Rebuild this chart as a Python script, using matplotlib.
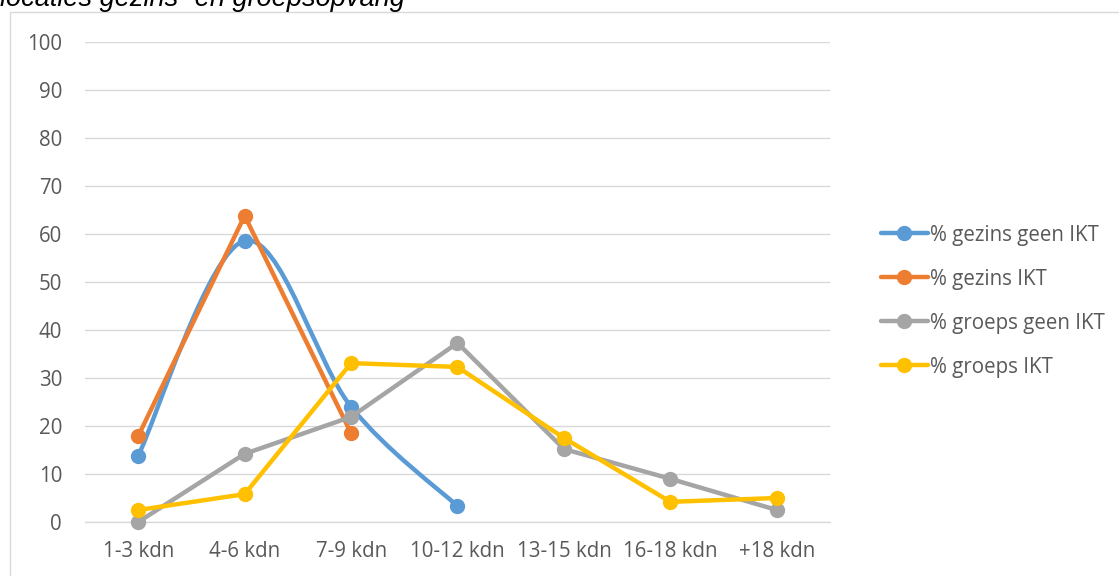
import matplotlib.pyplot as plt
from matplotlib.path import Path
from matplotlib.patches import PathPatch, Rectangle
from matplotlib.lines import Line2D

categories = ["1-3 kdn", "4-6 kdn", "7-9 kdn", "10-12 kdn", "13-15 kdn", "16-18 kdn", "+18 kdn"]

gezins_geen_ikt = [13.8, 58.6, 24.0, 3.3]
gezins_ikt = [17.9, 63.8, 18.5]
groeps_geen_ikt = [0.0, 14.2, 21.9, 37.3, 15.2, 9.0, 2.5]
groeps_ikt = [2.5, 5.8, 33.1, 32.3, 17.5, 4.2, 5.0]

labels = ["% gezins geen IKT", "% gezins IKT", "% groeps geen IKT", "% groeps IKT"]
colors = ["#5b9bd5", "#ed7d31", "#a5a5a5", "#ffc000"]

FONT = "Open Sans"
TXT = "#595959"
FS = 14.8


def smooth_path(xs, ys):
    # excel-style smoothed line as cubic bezier segments
    pts = list(zip(xs, ys))
    n = len(pts)
    verts = [pts[0]]
    codes = [Path.MOVETO]
    for i in range(n - 1):
        p0 = pts[i - 1] if i > 0 else pts[i]
        p1 = pts[i]
        p2 = pts[i + 1]
        p3 = pts[i + 2] if i + 2 < n else pts[i + 1]
        c1 = (p1[0] + (p2[0] - p0[0]) / 6, p1[1] + (p2[1] - p0[1]) / 6)
        c2 = (p2[0] - (p3[0] - p1[0]) / 6, p2[1] - (p3[1] - p1[1]) / 6)
        verts += [c1, c2, p2]
        codes += [Path.CURVE4] * 3
    return Path(verts, codes)


fig = plt.figure(figsize=(11.19, 5.76), dpi=100)

# chart border (partly outside the image)
fig.patches.append(Rectangle((10 / 1119, -0.1), 1.2, (576 - 12) / 576 + 0.1,
                             transform=fig.transFigure, fill=False,
                             edgecolor="#d9d9d9", linewidth=1.0))

fig.text(0.0, 1 - 6 / 576, "locaties gezins- en groepsopvang", fontsize=19.5,
         style="italic", family="Liberation Sans", color="#000000", va="baseline")

ax = fig.add_axes([85 / 1119, 54 / 576, 745 / 1119, 480 / 576])
ax.set_xlim(-0.5, 6.5)
ax.set_ylim(0, 100)
ax.set_yticks(range(0, 101, 10))
ax.set_xticks(range(len(categories)))
ax.set_xticklabels(categories)
for s in ["top", "right", "left"]:
    ax.spines[s].set_visible(False)
ax.spines["bottom"].set_color("#d9d9d9")
ax.spines["bottom"].set_linewidth(1.0)
ax.grid(axis="y", color="#d9d9d9", linewidth=1.0)
ax.set_axisbelow(True)
ax.tick_params(length=0, labelsize=FS, labelcolor=TXT, pad=14)
ax.tick_params(axis="y", pad=16.5)
for t in ax.get_xticklabels() + ax.get_yticklabels():
    t.set_family(FONT)

series = [gezins_geen_ikt, gezins_ikt, groeps_geen_ikt, groeps_ikt]
lw = 3.2
ms = 10
for k, (vals, c) in enumerate(zip(series, colors)):
    xs = list(range(len(vals)))
    z = 3 + k
    if k == 0:
        ax.add_patch(PathPatch(smooth_path(xs, vals), fill=False, edgecolor=c,
                               linewidth=lw, zorder=z, capstyle="round", clip_on=False))
        ax.plot(xs, vals, linestyle="none", marker="o", color=c, markersize=ms,
                zorder=z, clip_on=False)
    else:
        ax.plot(xs, vals, color=c, linewidth=lw, marker="o", markersize=ms,
                zorder=z, clip_on=False, solid_joinstyle="round")

handles = [Line2D([], [], color=c, linewidth=lw, marker="o", markersize=ms,
                  solid_capstyle="round") for c in colors]
leg = fig.legend(handles, labels, loc="upper left", bbox_to_anchor=(862 / 1119, 1 - 206 / 576),
                 frameon=False, handlelength=2.3, handletextpad=0.1, labelspacing=1.12,
                 prop={"family": FONT, "size": FS})
for t in leg.get_texts():
    t.set_color(TXT)

fig.savefig("out.png", dpi=100)
